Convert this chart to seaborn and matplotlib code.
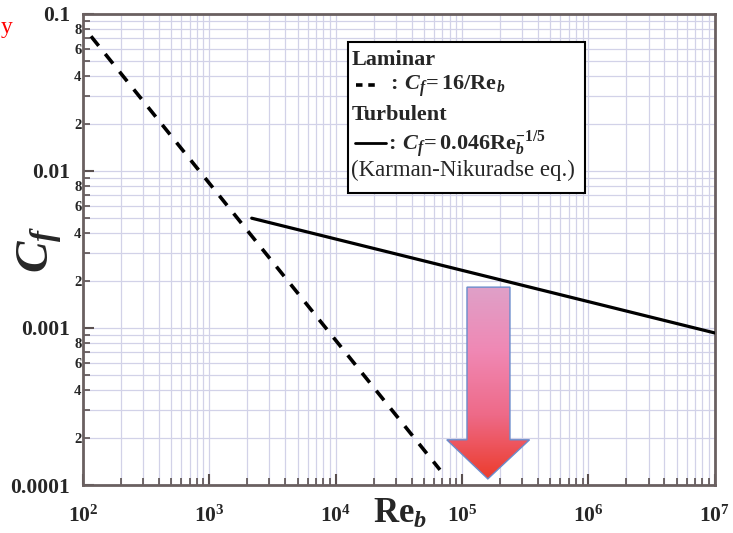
import numpy as np
import pandas as pd
import seaborn as sns
import matplotlib.pyplot as plt
from matplotlib.patches import Polygon, Rectangle
from matplotlib.lines import Line2D
from matplotlib.colors import LinearSegmentedColormap
from matplotlib.ticker import FixedLocator, FixedFormatter

# values
laminar_re = [116, 67000]
laminar_cf = [0.072, 1.25e-4]
turbulent_re = [2170, 1e7]
turbulent_cf = [0.0050, 0.00093]

x_major = [1e2, 1e3, 1e4, 1e5, 1e6, 1e7]
x_major_labels = [r'$\mathbf{10^{%d}}$' % p for p in range(2, 8)]
y_major = [1e-4, 1e-3, 1e-2, 1e-1]
y_major_labels = ['0.0001', '0.001', '0.01', '0.1']
y_minor_digits = [2, 3, 4, 5, 6, 7, 8, 9]
y_minor_labelled = [2, 4, 6, 8]

sns.set_theme(style="whitegrid")
plt.rcParams['font.family'] = ['Liberation Serif', 'DejaVu Serif']
plt.rcParams['mathtext.fontset'] = 'custom'
plt.rcParams['mathtext.rm'] = 'Liberation Serif:bold'
plt.rcParams['mathtext.bf'] = 'Liberation Serif:bold'
plt.rcParams['mathtext.it'] = 'Liberation Serif:italic:bold'

fig = plt.figure(figsize=(7.33, 5.33), dpi=100)
ax = fig.add_axes([0.113, 0.090, 0.862, 0.884])

lam = pd.DataFrame({'Re': laminar_re, 'Cf': laminar_cf})
turb = pd.DataFrame({'Re': turbulent_re, 'Cf': turbulent_cf})
sns.lineplot(data=lam, x='Re', y='Cf', ax=ax, color='black', lw=2.6,
             linestyle=(0, (3.4, 2.9)), zorder=3)
sns.lineplot(data=turb, x='Re', y='Cf', ax=ax, color='black', lw=2.3, zorder=3)

ax.set_xscale('log')
ax.set_yscale('log')
ax.set_xlim(1e2, 1e7)
ax.set_ylim(1e-4, 1e-1)

# ticks
ax.xaxis.set_major_locator(FixedLocator(x_major))
ax.xaxis.set_major_formatter(FixedFormatter(x_major_labels))
x_minor = [d * 10.0 ** p for p in range(2, 7) for d in range(2, 10)]
ax.xaxis.set_minor_locator(FixedLocator(x_minor))
ax.xaxis.set_minor_formatter(FixedFormatter([''] * len(x_minor)))

ax.yaxis.set_major_locator(FixedLocator(y_major))
ax.yaxis.set_major_formatter(FixedFormatter(y_major_labels))
y_minor = [d * 10.0 ** p for p in range(-4, -1) for d in y_minor_digits]
y_minor_lbl = [str(d) if d in y_minor_labelled else '' for p in range(-4, -1) for d in y_minor_digits]
ax.yaxis.set_minor_locator(FixedLocator(y_minor))
ax.yaxis.set_minor_formatter(FixedFormatter(y_minor_lbl))

ax.tick_params(axis='both', which='major', direction='in', length=8, width=1.5,
               color='#5a5050', labelsize=15.5, top=False, right=False, left=True, bottom=True)
ax.tick_params(axis='both', which='minor', direction='in', length=5, width=1.2,
               color='#5a5050', top=False, right=False, left=True, bottom=True)
ax.tick_params(axis='y', which='major', pad=9)
ax.tick_params(axis='y', which='minor', pad=1, labelsize=10.5)
ax.tick_params(axis='x', which='major', pad=15)
for lbl in ax.get_yticklabels() + ax.get_yticklabels(minor=True):
    lbl.set_fontweight('bold')

ax.grid(which='both', color='#d2d2e8', lw=0.9)
for s in ax.spines.values():
    s.set_color('#6a6060')
    s.set_linewidth(2.0)

ax.set_xlabel(r'$\mathbf{Re}_{b}$', fontsize=25)
ax.xaxis.set_label_coords(0.502, -0.062)
ax.xaxis.label.set_va('center')
ax.set_ylabel(r'$C_f$', fontsize=34)
ax.yaxis.set_label_coords(-0.068, 0.50)
ax.yaxis.label.set_va('center')

# legend box drawn by hand
ax.add_patch(Rectangle((0.419, 0.620), 0.375, 0.321, transform=ax.transAxes,
                       facecolor='white', edgecolor='black', lw=1.5, zorder=6))
ax.text(0.426, 0.902, 'Laminar', transform=ax.transAxes, fontsize=16,
        fontweight='bold', va='center', zorder=7)
ax.add_line(Line2D([0.432, 0.470], [0.848, 0.848], transform=ax.transAxes,
                   color='black', lw=2.6, linestyle=(0, (1.8, 1.6)), zorder=7))
ax.text(0.481, 0.847, r'$:\, C_f\!=16/\mathrm{Re}_{b}$', transform=ax.transAxes,
        fontsize=16, va='center', zorder=7)
ax.text(0.426, 0.786, 'Turbulent', transform=ax.transAxes, fontsize=16,
        fontweight='bold', va='center', zorder=7)
ax.add_line(Line2D([0.430, 0.480], [0.726, 0.726], transform=ax.transAxes,
                   color='black', lw=2.0, zorder=7))
ax.text(0.479, 0.724, r'$:\, C_f\!=0.046\mathrm{Re}_{b}^{-1/5}$', transform=ax.transAxes,
        fontsize=16, va='center', zorder=7)
ax.text(0.424, 0.667, '(Karman-Nikuradse eq.)', transform=ax.transAxes, fontsize=16.5,
        va='center', zorder=7)

# gradient arrow
arrow_pts = [(0.608, 0.420), (0.676, 0.420), (0.676, 0.096), (0.707, 0.096),
             (0.641, 0.013), (0.576, 0.096), (0.608, 0.096)]
arrow = Polygon(arrow_pts, closed=True, transform=ax.transAxes, facecolor='none',
                edgecolor='#6a8ccc', lw=1.0, zorder=5)
ax.add_patch(arrow)
cmap = LinearSegmentedColormap.from_list('arr', ['#dfa0c8', '#f088b4', '#ee6a88', '#ec3c2c'])
grad = np.linspace(0, 1, 256).reshape(-1, 1)
im = ax.imshow(grad, extent=[0.576, 0.707, 0.013, 0.420], transform=ax.transAxes,
               cmap=cmap, aspect='auto', origin='upper', zorder=4)
im.set_clip_path(arrow)
ax.set_xlim(1e2, 1e7)
ax.set_ylim(1e-4, 1e-1)

fig.text(0.001, 0.938, 'y', color='red', fontsize=17, ha='left', va='baseline')

fig.savefig('out.png', dpi=100)
